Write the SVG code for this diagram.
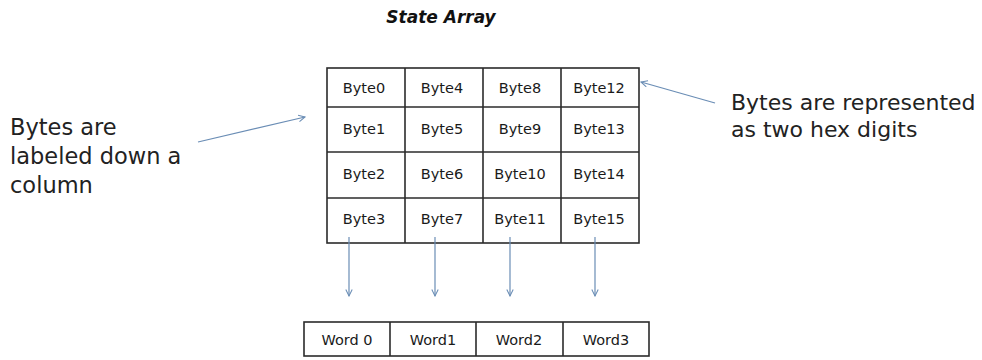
<svg xmlns="http://www.w3.org/2000/svg" width="982" height="360" viewBox="0 0 982 360">
  <defs>
    <marker id="arr" viewBox="0 0 10 10" refX="9" refY="5" markerWidth="8" markerHeight="8" markerUnits="userSpaceOnUse" orient="auto">
      <path d="M1,1 L9,5 L1,9" fill="none" stroke="#6a8db5" stroke-width="1.3"/>
    </marker>
  </defs>
  <style>
    .cell { fill: #ffffff; stroke: #2b2b2b; stroke-width: 1.6; }
    .ct { font-family: "DejaVu Sans", sans-serif; font-size: 14.5px; fill: #1a1a1a; text-anchor: middle; }
    .big { font-family: "DejaVu Sans", sans-serif; font-size: 22.5px; fill: #222; }
    .big2 { font-family: "DejaVu Sans", sans-serif; font-size: 22px; fill: #222; }
    .conn { stroke: #6a8db5; stroke-width: 1.2; fill: none; marker-end: url(#arr); }
    .title { font-family: "DejaVu Sans", sans-serif; font-size: 17px; font-weight: bold; font-style: italic; fill: #111; text-anchor: middle; }
  </style>
  <rect width="982" height="360" fill="#ffffff"/>

  <text class="title" x="441" y="23">State Array</text>

  <g id="state-array">
    <rect class="cell" x="327" y="68" width="312" height="175"/>
    <line class="cell" x1="405" y1="68" x2="405" y2="243"/>
    <line class="cell" x1="483" y1="68" x2="483" y2="243"/>
    <line class="cell" x1="561" y1="68" x2="561" y2="243"/>
    <line class="cell" x1="327" y1="107" x2="639" y2="107"/>
    <line class="cell" x1="327" y1="152" x2="639" y2="152"/>
    <line class="cell" x1="327" y1="198" x2="639" y2="198"/>
    <text class="ct" x="364" y="93">Byte0</text>
    <text class="ct" x="442" y="93">Byte4</text>
    <text class="ct" x="520" y="93">Byte8</text>
    <text class="ct" x="599" y="93">Byte12</text>
    <text class="ct" x="364" y="134">Byte1</text>
    <text class="ct" x="442" y="134">Byte5</text>
    <text class="ct" x="520" y="134">Byte9</text>
    <text class="ct" x="599" y="134">Byte13</text>
    <text class="ct" x="364" y="179">Byte2</text>
    <text class="ct" x="442" y="179">Byte6</text>
    <text class="ct" x="520" y="179">Byte10</text>
    <text class="ct" x="599" y="179">Byte14</text>
    <text class="ct" x="364" y="224">Byte3</text>
    <text class="ct" x="442" y="224">Byte7</text>
    <text class="ct" x="520" y="224">Byte11</text>
    <text class="ct" x="599" y="224">Byte15</text>
  </g>

  <g id="words">
    <rect class="cell" x="304" y="322" width="345" height="34"/>
    <line class="cell" x1="390" y1="322" x2="390" y2="356"/>
    <line class="cell" x1="476" y1="322" x2="476" y2="356"/>
    <line class="cell" x1="563" y1="322" x2="563" y2="356"/>
    <text class="ct" x="347" y="345">Word 0</text>
    <text class="ct" x="433" y="345">Word1</text>
    <text class="ct" x="519" y="345">Word2</text>
    <text class="ct" x="606" y="345">Word3</text>
  </g>

  <g id="note-left">
    <text class="big" x="10" y="135">Bytes are</text>
    <text class="big" x="10" y="164">labeled down a</text>
    <text class="big" x="10" y="193">column</text>
  </g>

  <g id="note-right">
    <text class="big2" x="731" y="110">Bytes are represented</text>
    <text class="big2" x="731" y="137">as two hex digits</text>
  </g>

  <g id="connectors">
    <line class="conn" x1="198" y1="142" x2="305" y2="117"/>
    <line class="conn" x1="715" y1="103" x2="641" y2="82"/>
    <line class="conn" x1="349" y1="237" x2="349" y2="296"/>
    <line class="conn" x1="435" y1="237" x2="435" y2="296"/>
    <line class="conn" x1="510" y1="237" x2="510" y2="296"/>
    <line class="conn" x1="595" y1="237" x2="595" y2="296"/>
  </g>
</svg>
